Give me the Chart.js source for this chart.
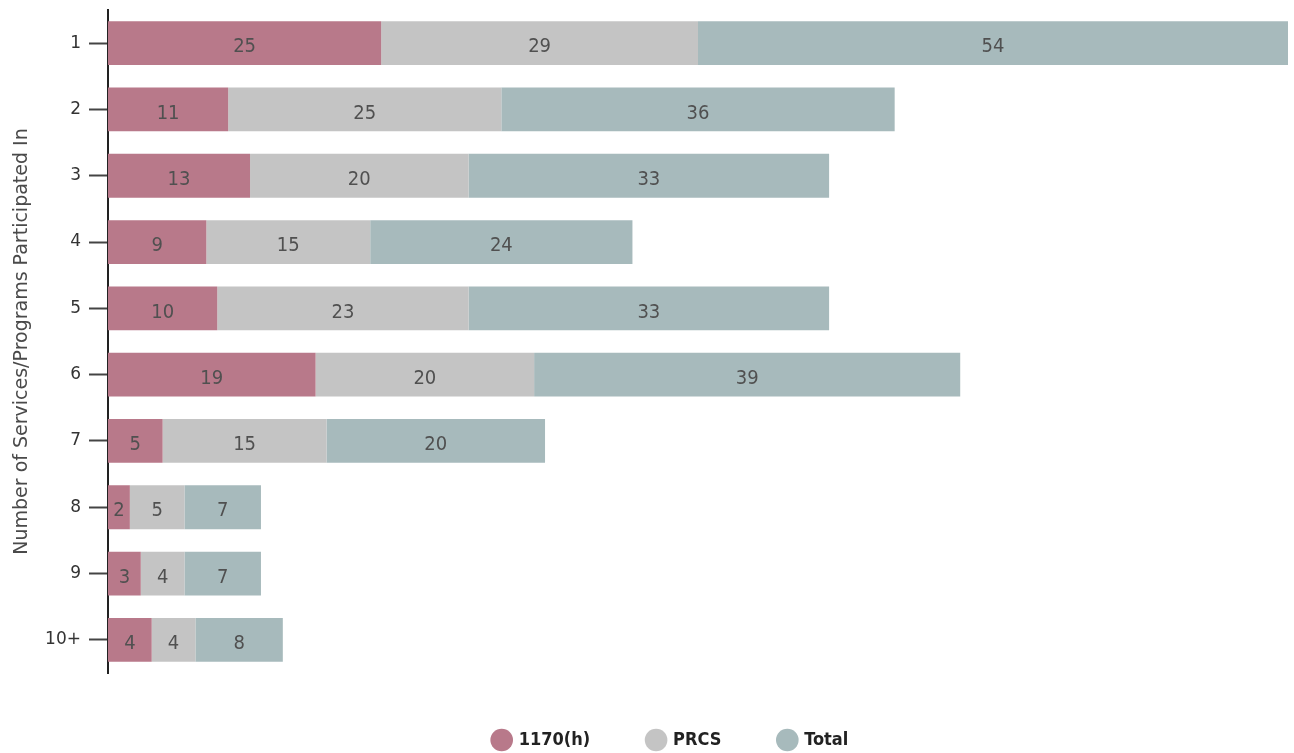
<!DOCTYPE html>
<html>
<head>
<meta charset="utf-8">
<title>Services/Programs Participated In</title>
<script src="https://cdn.jsdelivr.net/npm/chart.js@4.4.1/dist/chart.umd.min.js"></script>
<style>
  html, body { margin: 0; padding: 0; background: #fff; }
  #wrap { width: 1294px; height: 753px; }
</style>
</head>
<body>
<div id="wrap"><canvas id="servicesChart"></canvas></div>
<script>
const categories = ['1', '2', '3', '4', '5', '6', '7', '8', '9', '10+'];
const seriesNames = ['1170(h)', 'PRCS', 'Total'];
const val1170h = [25, 11, 13, 9, 10, 19, 5, 2, 3, 4];
const valPrcs = [29, 25, 20, 15, 23, 20, 15, 5, 4, 4];
const valTotal = [54, 36, 33, 24, 33, 39, 20, 7, 7, 8];

const colors = ['#b8798a', '#c4c4c4', '#a7babc'];

// longest stack sets the end of the value axis
const stackMax = Math.max(...categories.map((c, i) => val1170h[i] + valPrcs[i] + valTotal[i]));

// writes each segment's value in the middle of the segment
const segmentLabels = {
    id: 'segmentLabels',
    afterDatasetsDraw(chart) {
        const ctx = chart.ctx;
        ctx.save();
        ctx.fillStyle = '#505050';
        ctx.font = '20px "Liberation Sans Narrow", "DejaVu Sans Condensed", sans-serif';
        ctx.textAlign = 'center';
        ctx.textBaseline = 'middle';
        chart.data.datasets.forEach((ds, di) => {
            chart.getDatasetMeta(di).data.forEach((bar, i) => {
                const p = bar.getProps(['x', 'y', 'base'], true);
                ctx.fillText(ds.data[i], (p.x + p.base) / 2, p.y + 4);
            });
        });
        ctx.restore();
    }
};

// nudge the legend row a bit to the right of centre
const legendShift = {
    id: 'legendShift',
    afterLayout(chart) {
        chart.legend.left += 27;
        chart.legend.right += 27;
    }
};

const ctx = document.getElementById('servicesChart').getContext('2d');

let servicesChart = new Chart(ctx, {
    type: 'bar',
    data: {
        labels: categories,
        datasets: [val1170h, valPrcs, valTotal].map((d, i) => ({
            label: seriesNames[i],
            data: d,
            backgroundColor: colors[i],
            borderWidth: 0,
            barPercentage: 1,
            categoryPercentage: 0.66
        }))
    },
    options: {
        indexAxis: 'y',
        responsive: true,
        maintainAspectRatio: false,
        animation: false,
        layout: { padding: { top: 10, right: 6, bottom: -6, left: 0 } },
        scales: {
            x: {
                stacked: true,
                display: false,
                min: 0,
                max: stackMax
            },
            y: {
                stacked: true,
                afterFit(scale) {
                    scale.width = 108;
                    scale.paddingTop = 0;
                    scale.paddingBottom = 0;
                },
                border: { display: true, color: '#222', width: 2 },
                grid: {
                    offset: false,
                    drawOnChartArea: false,
                    drawTicks: true,
                    tickLength: 19,
                    tickWidth: 2,
                    tickColor: '#444'
                },
                ticks: {
                    padding: 8,
                    color: '#333',
                    font: { family: '"DejaVu Sans", sans-serif', size: 17 }
                },
                title: {
                    display: true,
                    text: 'Number of Services/Programs Participated In',
                    color: '#4a4a4a',
                    padding: { top: 11, bottom: 0 },
                    font: { family: '"DejaVu Sans", sans-serif', size: 19 }
                }
            }
        },
        plugins: {
            legend: {
                position: 'bottom',
                labels: {
                    usePointStyle: true,
                    pointStyle: 'circle',
                    boxWidth: 16,
                    boxHeight: 16,
                    padding: 58,
                    color: '#222',
                    font: { family: '"Liberation Sans Narrow", "DejaVu Sans Condensed", sans-serif', size: 18, weight: 'bold' }
                }
            },
            tooltip: { enabled: false }
        }
    },
    plugins: [segmentLabels, legendShift]
});
</script>
</body>
</html>
